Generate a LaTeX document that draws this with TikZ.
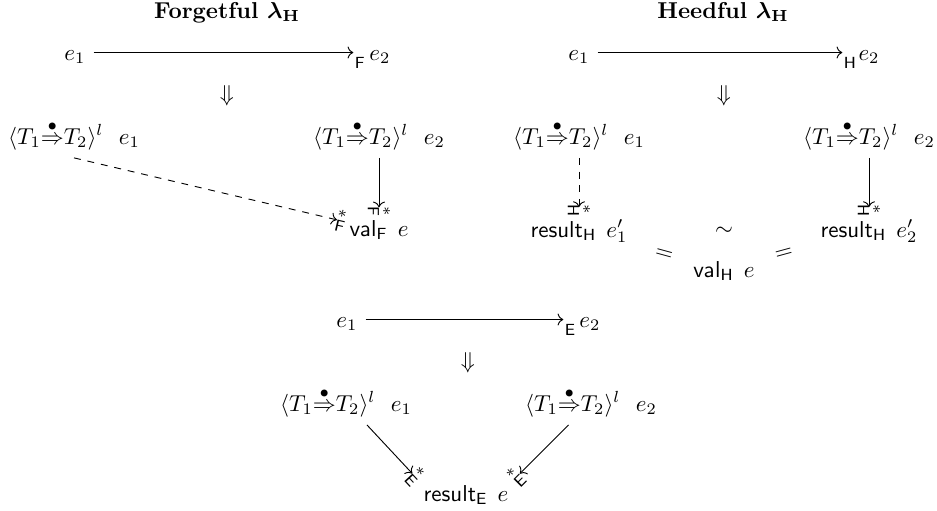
\documentclass[tikz,border=0pt]{standalone}
\usepackage{amsmath, amssymb}
\usepackage{tikz}
\usetikzlibrary{positioning, arrows.meta, calc}

\newcommand{\castexp}[1]{\langle T_1{\overset{\bullet}{\Rightarrow}}T_2\rangle^{l}\ \ #1}

\begin{document}
\begin{tikzpicture}[x=0.435pt, y=-0.435pt,
    term/.style={anchor=base, text height=7pt, text depth=0.5pt},
    tm/.style={anchor=base},
    tip/.style={pos=1, sloped, inner sep=0pt},
    sub/.style={anchor=north west, inner sep=0.5pt, yshift=-1.5pt}]
  \useasboundingbox (0,0) rectangle (937,510);

  % Forgetful
  \node[tm] (ft) at (227,18) {\textbf{Forgetful $\boldsymbol{\lambda}_{\mathbf{H}}$}};
  \node[term] (fe1) at (75,60) {$e_1$};
  \node[term] (fe2) at (380,60) {$e_2$};
  \node (fd) at (227,96) {$\Downarrow$};
  \node[tm] (fl) at (74,144) {$\castexp{e_1}$};
  \node[tm] (fr) at (379,144) {$\castexp{e_2}$};
  \node[tm] (fv) at (379,236) {$\mathsf{val}_{\mathsf{F}}\;\, e$};
  \draw[->] (fe1) -- ([xshift=-3.5pt]fe2.west) node[sub] {$\scriptstyle\mathsf{F}$};
  \draw[->, dashed, shorten >=2pt] (fl.south) -- node[tip] {${}^{*}_{\mathsf{F}}$} (fv);
  \draw[->, shorten >=2pt] (fr) -- node[tip] {${}^{*}_{\mathsf{F}}$} (fv);

  % Heedful
  \node[tm] (ht) at (723,18) {\textbf{Heedful $\boldsymbol{\lambda}_{\mathbf{H}}$}};
  \node[term] (he1) at (579,60) {$e_1$};
  \node[term] (he2) at (869,60) {$e_2$};
  \node (hd) at (724,96) {$\Downarrow$};
  \node[tm] (hl) at (579,144) {$\castexp{e_1}$};
  \node[tm] (hr) at (869,144) {$\castexp{e_2}$};
  \node[tm] (hres1) at (579,237) {$\mathsf{result}_{\mathsf{H}}\;\, e_1'$};
  \node[tm] (hres2) at (869,237) {$\mathsf{result}_{\mathsf{H}}\;\, e_2'$};
  \node[tm] (hv) at (724,277) {$\mathsf{val}_{\mathsf{H}}\;\, e$};
  \draw[->] (he1) -- ([xshift=-3.5pt]he2.west) node[sub] {$\scriptstyle\mathsf{H}$};
  \draw[->, dashed, shorten >=2pt] (hl) -- node[tip] {${}^{*}_{\mathsf{H}}$} (hres1);
  \draw[->, shorten >=2pt] (hr) -- node[tip] {${}^{*}_{\mathsf{H}}$} (hres2);
  \path (hres1) -- node {$\sim$} (hres2);
  \path (hres1) -- node[pos=0.57, sloped] {$=$} (hv);
  \path (hv) -- node[pos=0.43, sloped] {$=$} (hres2);

  % E
  \node[term] (ee1) at (347,327) {$e_1$};
  \node[term] (ee2) at (590,327) {$e_2$};
  \node (ed) at (468,363) {$\Downarrow$};
  \node[tm] (el) at (346,411) {$\castexp{e_1}$};
  \node[tm] (er) at (591,411) {$\castexp{e_2}$};
  \node[tm] (eres) at (466,501) {$\mathsf{result}_{\mathsf{E}}\;\, e$};
  \draw[->] (ee1) -- ([xshift=-3.5pt]ee2.west) node[sub] {$\scriptstyle\mathsf{E}$};
  \draw[->, shorten >=2pt] (el) -- node[tip] {${}^{*}_{\mathsf{E}}$} (eres.north west);
  \draw[->, shorten >=2pt] (er) -- node[tip] {${}^{*}_{\mathsf{E}}$} (eres.north east);
\end{tikzpicture}
\end{document}
